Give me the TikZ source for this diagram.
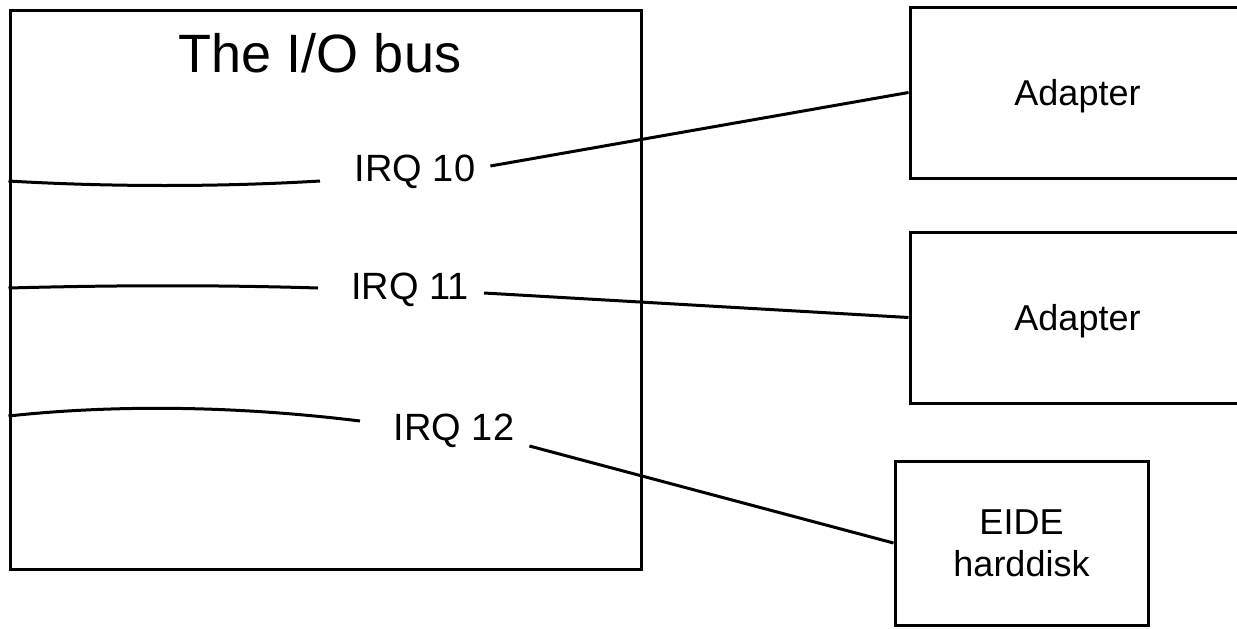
\documentclass[tikz,border=0pt]{standalone}
\usepackage{fontspec}
\setmainfont{Liberation Sans}
\usepackage{tikz}
\usetikzlibrary{positioning, calc}

\begin{document}
\begin{tikzpicture}[
  x=1pt, y=-1pt,
  every node/.style={font=\fontsize{36}{42}\selectfont, align=center, inner sep=0pt},
  box/.style={draw, line width=3pt, text depth=0pt},
  adapter/.style={box, minimum width=335pt, minimum height=171pt},
  irq/.style={font=\fontsize{38}{42}\selectfont, inner xsep=15pt},
  wire/.style={line width=3pt},
]
  \useasboundingbox (0,0) rectangle (1237,629);
  \clip (0,0) rectangle (1237,629);

  % the bus
  \node[box, minimum width=631pt, minimum height=559pt] (bus) at (325.5,289.5) {};
  \node[font=\fontsize{54}{60}\selectfont] (title) at (320,53) {The I/O bus};

  \node[irq] (irq10) at (415,172) {IRQ 10};
  \node[irq] (irq11) at (410,290) {IRQ 11};
  \node[irq] (irq12) at (454,431) {IRQ 12};

  \coordinate (w10) at (320,181);
  \coordinate (w11) at (318,288);
  \coordinate (w12) at (360,421);

  % devices
  \node[adapter] (ad1) at (1077.5,92.5)  {Adapter};
  \node[adapter] (ad2) at (1077.5,317.5) {Adapter};
  \node[box, minimum width=253pt, minimum height=164pt] (hd) at (1021.5,543) {EIDE\\harddisk};

  \draw[wire] (bus.west |- w10) .. controls (110,187) and (220,187) .. (w10);
  \draw[wire] (bus.west |- w11) .. controls (120,285) and (220,285) .. (w11);
  \draw[wire] ([yshift=5pt]bus.west |- w12) .. controls (110,405) and (230,405) .. (w12);

  \draw[wire] ([yshift=6pt]irq10.east) -- (ad1.west);
  \draw[wire] ([yshift=-3pt]irq11.east) -- (ad2.west);
  \draw[wire] ([yshift=-15pt]irq12.east) -- (hd.west);
\end{tikzpicture}
\end{document}
